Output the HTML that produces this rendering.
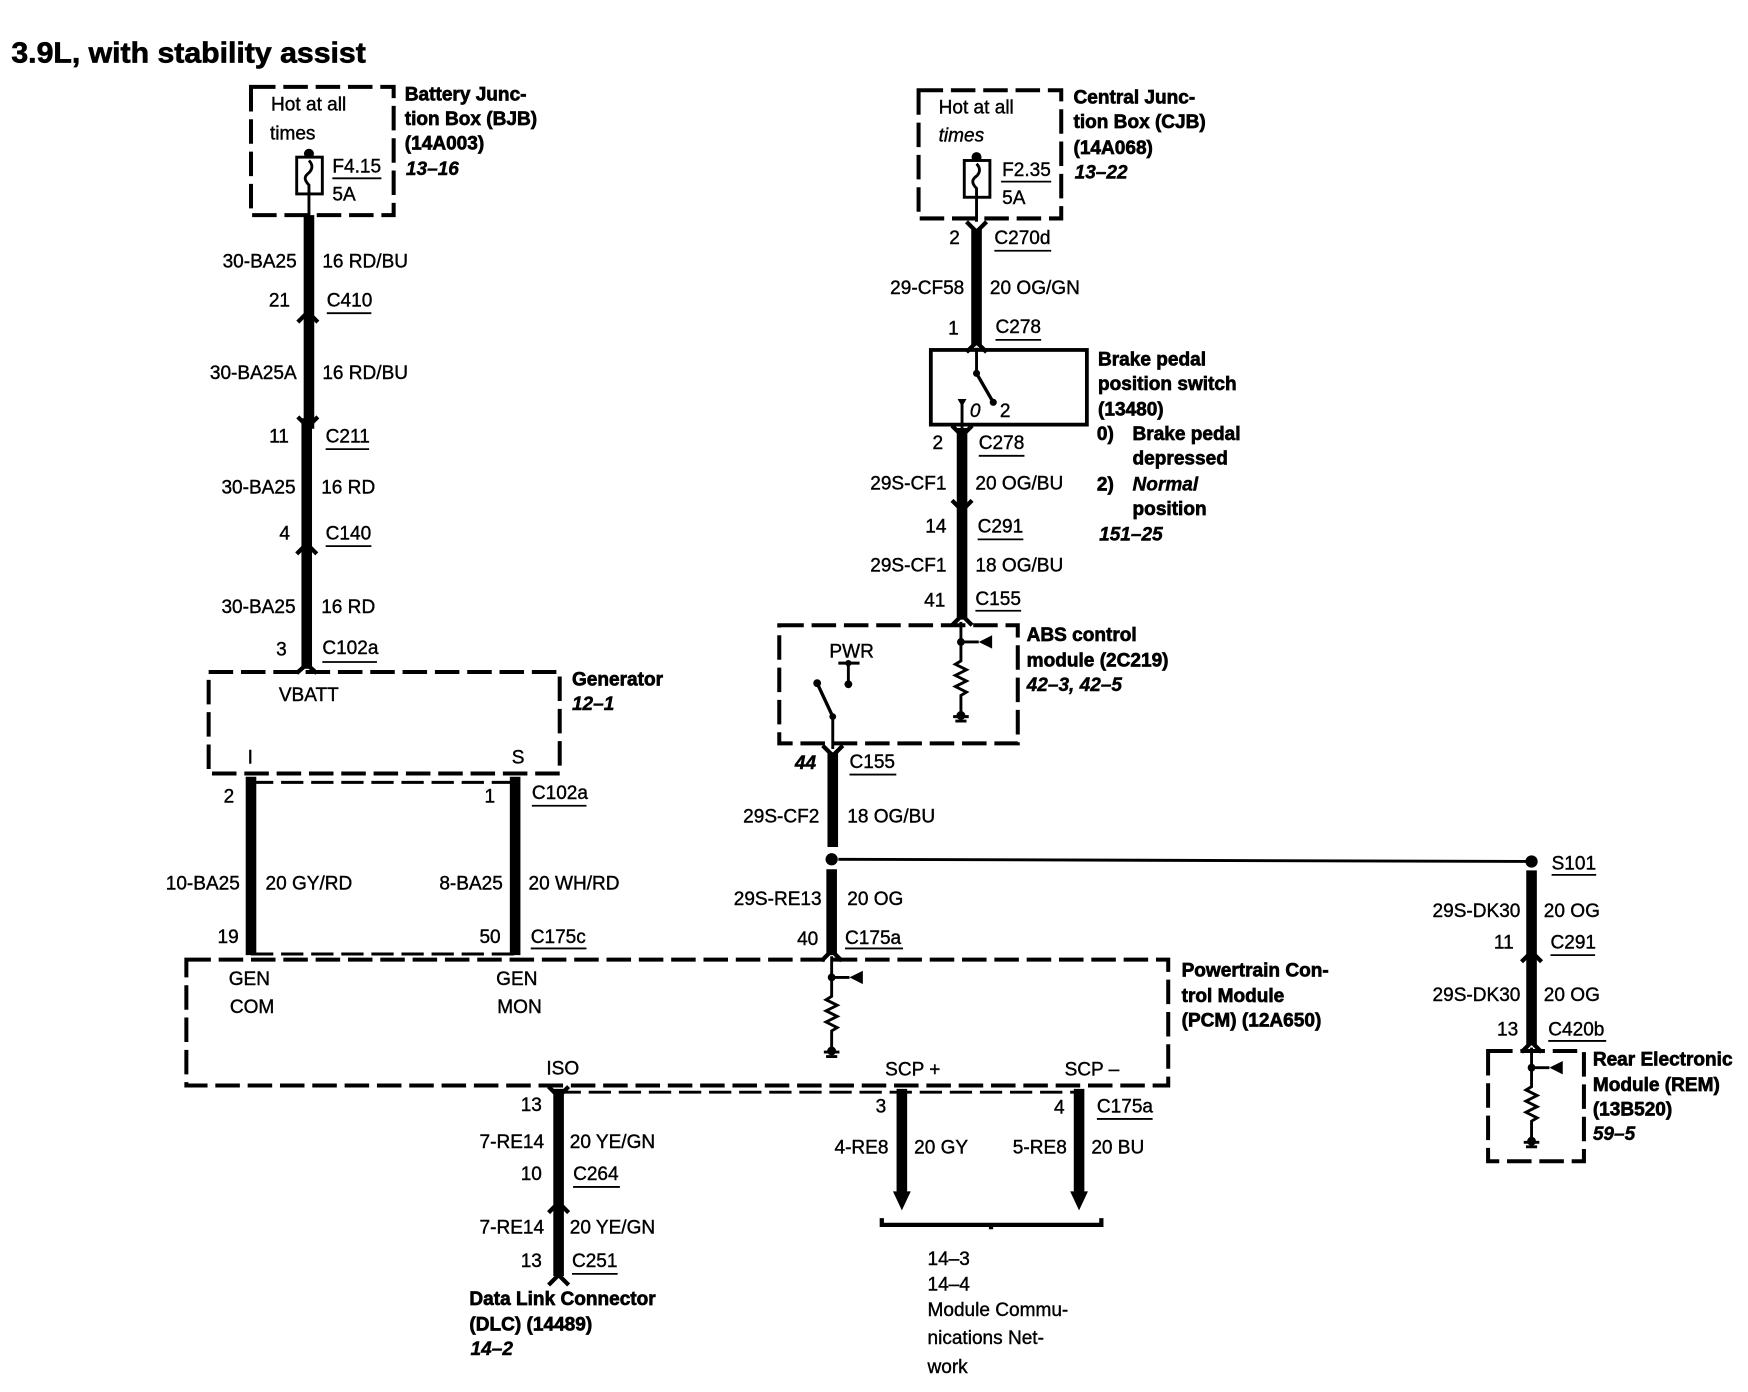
<!DOCTYPE html>
<html><head><meta charset="utf-8"><style>
html,body{margin:0;padding:0;background:#fff;width:1748px;height:1392px;overflow:hidden}
svg{display:block}
text{font-family:"Liberation Sans",sans-serif;font-size:17.1px;fill:#000;stroke:#000;stroke-width:.35}
.b{font-weight:bold;stroke-width:.6}
.i{font-weight:bold;font-style:italic;stroke-width:.4}
.r{text-anchor:end}
.d{fill:none;stroke:#000;stroke-width:3.6;stroke-dasharray:22 7}
.d2{fill:none;stroke:#000;stroke-width:2.6;stroke-dasharray:20 7}
.w{stroke:#000;stroke-width:9.5;fill:none}
.t{stroke:#000;stroke-width:2.6;fill:none}
.u{stroke:#000;stroke-width:1.6;fill:none}
.c{stroke:#000;stroke-width:3.8;fill:none}
</style></head><body>
<svg width="1748" height="1392" viewBox="0 0 1568 1249" xmlns="http://www.w3.org/2000/svg">
<defs>
<g id="res"><path class="t" d="M0 0V17L-5 20L5 25L-5 30L5 35L-5 40L5 45L0 48V66"/><circle cx="0" cy="0" r="3.5"/><path d="M0 0H16" class="t"/><path d="M16 0L28 -6V6Z"/><circle cx="0" cy="66" r="4"/><path d="M-7 67H7M-5 71H5" class="t"/></g>
<path id="up" class="c" d="M-9 6L0 -3L9 6"/>
<path id="dn" class="c" d="M-9 -6L0 3L9 -6"/>
<g id="fuse"><circle cx="0" cy="-3" r="4.5"/><rect x="-11" y="0" width="23" height="33" fill="#fff" stroke="#000" stroke-width="2.6"/><path class="t" d="M0 -3V0M0 33V55M0 33V25C-5 20 -4 17 0 14C4 10 3 6 0 3"/></g>
</defs>
<text class="b" x="10" y="56" style="font-size:26px" textLength="318" lengthAdjust="spacingAndGlyphs">3.9L, with stability assist</text>

<!-- BJB -->
<rect class="d" x="225" y="78" width="128" height="115"/>
<text x="243" y="99">Hot at all</text><text x="242" y="125">times</text>
<use href="#fuse" x="277" y="141"/>
<text x="298" y="155">F4.15</text><path class="u" d="M298 160H342"/><text x="298" y="180">5A</text>
<text class="b" x="363" y="90">Battery Junc-</text><text class="b" x="363" y="112">tion Box (BJB)</text><text class="b" x="363" y="134">(14A003)</text><text class="i" x="364" y="157">13–16</text>
<path class="w" d="M277 193V380L275 380V600"/>
<use href="#up" x="276" y="283"/><use href="#dn" x="276" y="380"/><use href="#up" x="275" y="491"/>
<path class="c" d="M266 604L275 596L284 604"/>
<text class="r" x="266" y="240">30-BA25</text><text x="289" y="240">16 RD/BU</text>
<text class="r" x="260" y="275">21</text><text x="293" y="275">C410</text><path class="u" d="M293 281H333"/>
<text class="r" x="266" y="340">30-BA25A</text><text x="289" y="340">16 RD/BU</text>
<text class="r" x="259" y="397">11</text><text x="292" y="397">C211</text><path class="u" d="M292 403H331"/>
<text class="r" x="265" y="443">30-BA25</text><text x="288" y="443">16 RD</text>
<text class="r" x="260" y="484">4</text><text x="292" y="484">C140</text><path class="u" d="M292 490H333"/>
<text class="r" x="265" y="550">30-BA25</text><text x="288" y="550">16 RD</text>
<text class="r" x="257" y="588">3</text><text x="289" y="587">C102a</text><path class="u" d="M289 594H338"/>

<!-- Generator -->
<rect class="d" x="187" y="603" width="315" height="91"/>
<text x="250" y="629">VBATT</text><text x="222" y="685">I</text><text x="459" y="685">S</text>
<text class="b" x="513" y="615">Generator</text><text class="i" x="513" y="637">12–1</text>
<path class="w" d="M225 697V857M462 697V857"/>
<path class="d2" d="M225 702H462M225 856H462"/>
<text class="r" x="210" y="720">2</text><text class="r" x="444" y="720">1</text><text x="477" y="717">C102a</text><path class="u" d="M477 723H526"/>
<text class="r" x="215" y="798">10-BA25</text><text x="238" y="798">20 GY/RD</text>
<text class="r" x="451" y="798">8-BA25</text><text x="474" y="798">20 WH/RD</text>
<text class="r" x="214" y="846">19</text><text class="r" x="449" y="846">50</text><text x="476" y="846">C175c</text><path class="u" d="M476 851H526"/>

<!-- PCM -->
<rect class="d" x="167" y="861" width="881" height="113"/>
<text x="205" y="884">GEN</text><text x="206" y="909">COM</text><text x="445" y="884">GEN</text><text x="446" y="909">MON</text>
<text x="490" y="964">ISO</text><text x="794" y="965">SCP +</text><text x="955" y="965">SCP –</text>
<text class="b" x="1060" y="876">Powertrain Con-</text><text class="b" x="1060" y="899">trol Module</text><text class="b" x="1060" y="921">(PCM) (12A650)</text>
<path class="t" d="M746 858V877"/>
<use href="#res" x="746" y="877"/>
<path class="d2" d="M501 980H968"/>
<path class="w" d="M501 977V1145"/>
<path class="w" d="M809 977V1070M968 977V1070"/>
<path d="M801 1069H817L809 1086Z M960 1069H976L968 1086Z"/>
<use href="#up" x="501" y="1082"/><use href="#dn" x="501" y="981"/><use href="#up" x="501" y="1147"/>
<text class="r" x="486" y="997">13</text><text class="r" x="795" y="998">3</text><text class="r" x="955" y="999">4</text><text x="984" y="998">C175a</text><path class="u" d="M984 1004H1034"/>
<text class="r" x="488" y="1030">7-RE14</text><text x="511" y="1030">20 YE/GN</text>
<text class="r" x="797" y="1035">4-RE8</text><text x="820" y="1035">20 GY</text>
<text class="r" x="957" y="1035">5-RE8</text><text x="979" y="1035">20 BU</text>
<text class="r" x="486" y="1059">10</text><text x="514" y="1059">C264</text><path class="u" d="M514 1065H556"/>
<text class="r" x="488" y="1107">7-RE14</text><text x="511" y="1107">20 YE/GN</text>
<text class="r" x="486" y="1137">13</text><text x="513" y="1137">C251</text><path class="u" d="M513 1143H554"/>
<text class="b" x="421" y="1171">Data Link Connector</text><text class="b" x="421" y="1194">(DLC) (14489)</text><text class="i" x="422" y="1216">14–2</text>
<path class="c" d="M791 1093V1099H988V1093M889 1099V1103"/>
<text x="832" y="1135">14–3</text><text x="832" y="1158">14–4</text><text x="832" y="1181">Module Commu-</text><text x="832" y="1206">nications Net-</text><text x="832" y="1232">work</text>

<!-- CJB -->
<rect class="d" x="824" y="81" width="128" height="115"/>
<text x="842" y="102">Hot at all</text><text x="842" y="127" style="font-style:italic">times</text>
<use href="#fuse" x="876" y="144"/>
<text x="899" y="158">F2.35</text><path class="u" d="M898 163H943"/><text x="899" y="183">5A</text>
<text class="b" x="963" y="93">Central Junc-</text><text class="b" x="963" y="115">tion Box (CJB)</text><text class="b" x="963" y="138">(14A068)</text><text class="i" x="964" y="160">13–22</text>
<path class="w" d="M876 205V310"/><use href="#dn" x="876" y="205"/><use href="#up" x="876" y="310"/>
<text class="r" x="861" y="219">2</text><text x="892" y="219">C270d</text><path class="u" d="M892 225H943"/>
<text class="r" x="865" y="264">29-CF58</text><text x="888" y="264">20 OG/GN</text>
<text class="r" x="860" y="300">1</text><text x="893" y="299">C278</text><path class="u" d="M893 305H934"/>
<rect x="835" y="314" width="140" height="67" fill="none" stroke="#000" stroke-width="3.4"/>
<path class="t" d="M876 312V335"/><path d="M876 335L891 361" stroke="#000" stroke-width="3"/><circle cx="876" cy="335" r="3.2"/><circle cx="891" cy="361" r="3.2"/>
<path class="t" d="M863 360V384"/><path d="M859 358H867L863 365Z"/>
<text x="870" y="374" style="font-style:italic">0</text><text x="897" y="374">2</text>
<text class="b" x="985" y="328">Brake pedal</text><text class="b" x="985" y="350">position switch</text><text class="b" x="985" y="373">(13480)</text>
<text class="b" x="984" y="395">0)</text><text class="b" x="1016" y="395">Brake pedal</text><text class="b" x="1016" y="417">depressed</text>
<text class="b" x="984" y="440">2)</text><text class="i" x="1016" y="440">Normal</text><text class="b" x="1016" y="462">position</text><text class="i" x="986" y="485">151–25</text>
<path class="w" d="M863 384V556"/><use href="#dn" x="863" y="388"/><use href="#dn" x="863" y="455"/><use href="#up" x="863" y="555"/>
<text class="r" x="846" y="403">2</text><text x="878" y="403">C278</text><path class="u" d="M878 409H919"/>
<text class="r" x="849" y="439">29S-CF1</text><text x="875" y="439">20 OG/BU</text>
<text class="r" x="849" y="478">14</text><text x="877" y="478">C291</text><path class="u" d="M877 484H918"/>
<text class="r" x="849" y="513">29S-CF1</text><text x="875" y="513">18 OG/BU</text>
<text class="r" x="848" y="544">41</text><text x="875" y="543">C155</text><path class="u" d="M875 548H916"/>

<!-- ABS -->
<rect class="d" x="699" y="561" width="214" height="106"/>
<text x="744" y="590">PWR</text>
<path class="t" d="M752 595H771M761 595V614"/><circle cx="761" cy="595" r="2.8"/><circle cx="761" cy="614" r="3.5"/>
<path d="M733 613L747 643" stroke="#000" stroke-width="3"/><circle cx="733" cy="613" r="3.5"/><circle cx="747" cy="643" r="3"/>
<path class="t" d="M747 643V672"/>
<path class="t" d="M862 558V576"/><use href="#res" x="862" y="576"/>
<text class="b" x="921" y="575">ABS control</text><text class="b" x="921" y="598">module (2C219)</text><text class="i" x="921" y="620">42–3, 42–5</text>
<path class="w" d="M747 675V760M746 780V857"/><use href="#dn" x="747" y="675"/><use href="#up" x="746" y="856"/>
<circle cx="746" cy="771" r="5.5"/><path class="t" d="M752 771L1372 773"/>
<text class="i r" x="732" y="690">44</text><text x="762" y="689">C155</text><path class="u" d="M762 695H804"/>
<text class="r" x="735" y="738">29S-CF2</text><text x="760" y="738">18 OG/BU</text>
<text class="r" x="737" y="812">29S-RE13</text><text x="760" y="812">20 OG</text>
<text class="r" x="734" y="848">40</text><text x="758" y="847">C175a</text><path class="u" d="M758 851H810"/>

<!-- S101 / REM -->
<circle cx="1374" cy="773" r="5.5"/>
<text x="1392" y="780">S101</text><path class="u" d="M1392 785H1432"/>
<path class="w" d="M1374 781V938"/><use href="#up" x="1374" y="857"/><use href="#up" x="1374" y="938"/>
<text class="r" x="1364" y="823">29S-DK30</text><text x="1385" y="823">20 OG</text>
<text class="r" x="1358" y="851">11</text><text x="1391" y="851">C291</text><path class="u" d="M1391 857H1431"/>
<text class="r" x="1364" y="898">29S-DK30</text><text x="1385" y="898">20 OG</text>
<text class="r" x="1362" y="929">13</text><text x="1389" y="929">C420b</text><path class="u" d="M1389 934H1441"/>
<rect class="d" x="1335" y="943" width="86" height="99"/>
<path class="t" d="M1374 940V958"/><use href="#res" x="1374" y="958"/>
<text class="b" x="1429" y="956">Rear Electronic</text><text class="b" x="1429" y="979">Module (REM)</text><text class="b" x="1429" y="1001">(13B520)</text><text class="i" x="1429" y="1023">59–5</text>
</svg>
</body></html>
